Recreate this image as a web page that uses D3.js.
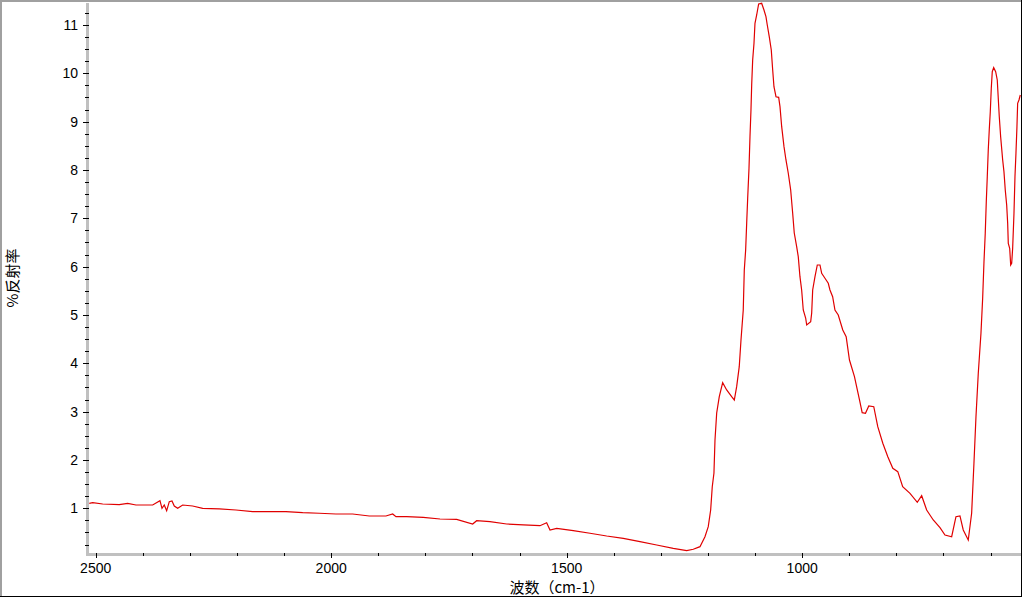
<!DOCTYPE html>
<html>
<head>
<meta charset="utf-8">
<script src="https://cdn.jsdelivr.net/npm/d3@7"></script>
<style>
  html, body { margin: 0; padding: 0; background: #fff; }
  svg { display: block; }
</style>
</head>
<body>
<svg id="chart" width="1024" height="598"></svg>
<script>
// ---- data ----
const wavenumber = [
  2513.6, 2506.4, 2485.1, 2449.9, 2432.1, 2414.4, 2379.0, 2363.5, 2359.2, 2354.4,
  2349.3, 2343.7, 2338.0, 2333.1, 2325.9, 2315.3, 2294.1, 2272.8, 2237.6, 2202.1,
  2166.7, 2131.4, 2096.0, 2060.5, 2025.3, 1989.8, 1954.4, 1919.1, 1883.7, 1869.4,
  1862.4, 1839.7, 1804.5, 1769.0, 1733.6, 1699.6, 1691.1, 1662.9, 1627.4, 1592.1,
  1556.7, 1542.5, 1535.4, 1521.2, 1486.0, 1450.5, 1415.1, 1379.8, 1344.4, 1308.9,
  1273.7, 1245.2, 1231.2, 1217.0, 1206.4, 1199.4, 1194.3, 1190.9, 1187.3, 1185.1,
  1181.5, 1176.0, 1168.8, 1160.3, 1149.7, 1144.1, 1139.1, 1133.6, 1129.9, 1125.1,
  1122.9, 1120.0, 1117.8, 1115.7, 1112.9, 1110.8, 1108.7, 1107.2, 1105.1, 1102.3,
  1100.2, 1096.6, 1092.4, 1086.0, 1081.1, 1076.9, 1074.1, 1069.9, 1065.6, 1062.6,
  1059.9, 1055.6, 1049.9, 1047.1, 1043.5, 1038.6, 1034.4, 1029.5, 1024.4, 1020.2,
  1016.8, 1011.7, 1008.3, 1004.7, 1001.1, 997.7, 992.6, 990.4, 981.9, 979.8,
  977.7, 972.8, 967.9, 962.2, 958.6, 951.6, 944.6, 941.0, 935.3, 930.4,
  923.4, 913.8, 906.6, 899.6, 889.0, 878.3, 872.6, 865.6, 858.6, 848.0,
  839.5, 828.8, 818.2, 807.6, 797.0, 786.6, 771.1, 755.6, 746.3, 735.7,
  721.7, 707.4, 696.8, 682.6, 673.5, 665.0, 658.0, 647.4, 640.2, 635.3,
  631.0, 626.1, 620.4, 616.8, 614.0, 611.3, 609.1, 607.0, 604.9, 602.8,
  600.6, 598.5, 596.4, 593.4, 589.2, 585.8, 581.5, 578.6, 574.3, 571.6,
  568.8, 565.8, 563.7, 562.4, 559.4, 557.3, 555.2, 553.1, 550.3, 548.2,
  546.1, 544.0, 542.5, 539.7, 536.9
];
const reflectance = [
  1.103, 1.116, 1.089, 1.075, 1.103, 1.068, 1.068, 1.157, 1.000, 1.068,
  0.950, 1.137, 1.151, 1.048, 1.000, 1.068, 1.048, 1.000, 0.986, 0.965,
  0.930, 0.930, 0.930, 0.909, 0.897, 0.882, 0.882, 0.841, 0.841, 0.882,
  0.826, 0.826, 0.814, 0.779, 0.772, 0.675, 0.744, 0.723, 0.675, 0.655,
  0.640, 0.702, 0.551, 0.586, 0.537, 0.483, 0.427, 0.379, 0.309, 0.241,
  0.172, 0.123, 0.152, 0.206, 0.412, 0.619, 0.965, 1.447, 1.730, 2.413,
  2.972, 3.309, 3.599, 3.448, 3.309, 3.241, 3.516, 3.930, 4.482, 5.103,
  5.931, 6.344, 6.903, 7.414, 8.035, 8.689, 9.241, 9.759, 10.276, 10.621,
  11.035, 11.207, 11.435, 11.449, 11.310, 11.172, 11.000, 10.758, 10.483, 10.069,
  9.723, 9.516, 9.504, 9.310, 8.896, 8.482, 8.207, 7.932, 7.586, 7.110,
  6.696, 6.413, 6.206, 5.792, 5.517, 5.103, 4.937, 4.793, 4.861, 5.041,
  5.517, 5.792, 6.034, 6.034, 5.862, 5.759, 5.656, 5.517, 5.378, 5.103,
  5.000, 4.689, 4.551, 4.068, 3.723, 3.241, 2.978, 2.966, 3.117, 3.102,
  2.688, 2.345, 2.068, 1.828, 1.758, 1.447, 1.310, 1.124, 1.261, 0.965,
  0.758, 0.599, 0.447, 0.412, 0.826, 0.841, 0.551, 0.344, 0.897, 1.931,
  2.896, 3.793, 4.621, 5.345, 6.102, 6.690, 7.344, 7.861, 8.414, 8.827,
  9.206, 9.690, 10.034, 10.117, 10.034, 9.862, 9.103, 8.689, 8.207, 7.965,
  7.586, 7.276, 6.897, 6.483, 6.380, 6.034, 6.069, 6.380, 7.104, 7.861,
  8.345, 8.896, 9.380, 9.448, 9.552
];
const xMajorTicks = [2500, 2000, 1500, 1000];
const xMinorTicks = d3.range(2500, 500, -100);
const yMajorTicks = [1, 2, 3, 4, 5, 6, 7, 8, 9, 10, 11];
const yMinorTicks = d3.range(0.25, 11.5, 0.25);
const xTitle = "波数（cm-1）";
const yTitle = "%反射率";

// ---- layout ----
(function () {
const svg = d3.select("#chart");
const W = 1024, H = 598;
const pLeft = 88, pRight = 1021, pTop = 3, pBottom = 553;

const x = d3.scaleLinear().domain([2516.3, 535.4]).range([pLeft, pRight]);
const y = d3.scaleLinear().domain([0.075, 11.455]).range([pBottom, pTop]);

svg.append("rect").attr("x", 0).attr("y", 0).attr("width", W).attr("height", H).attr("fill", "#fff");

// frame
svg.append("rect").attr("x", 0).attr("y", 0).attr("width", 1022).attr("height", 2).attr("fill", "#a0a0a0");
svg.append("rect").attr("x", 0).attr("y", 0).attr("width", 2).attr("height", 597).attr("fill", "#a0a0a0");
svg.append("rect").attr("x", 1021).attr("y", 0).attr("width", 1).attr("height", 597).attr("fill", "#000");
svg.append("rect").attr("x", 0).attr("y", 596).attr("width", 1022).attr("height", 1).attr("fill", "#000");

// axis bands
svg.append("rect").attr("x", 86).attr("y", pTop).attr("width", 3).attr("height", 556 - pTop).attr("fill", "#c0c0c0");
svg.append("rect").attr("x", 86).attr("y", 553).attr("width", pRight - 86).attr("height", 3).attr("fill", "#c0c0c0");

// curve
const pts = wavenumber.map((w, i) => [w, reflectance[i]]);
const line = d3.line().x(d => x(d[0])).y(d => y(d[1]));
svg.append("path").datum(pts)
  .attr("d", line)
  .attr("fill", "none")
  .attr("stroke", "#e00000")
  .attr("stroke-width", 1.2)
  .attr("stroke-linejoin", "miter");

// y ticks
const yMinorSel = yMinorTicks.filter(v => !yMajorTicks.includes(v) && y(v) >= pTop);
svg.selectAll(".ymin").data(yMinorSel).enter().append("line")
  .attr("x1", 85).attr("x2", 89)
  .attr("y1", d => Math.round(y(d)) + 0.5).attr("y2", d => Math.round(y(d)) + 0.5)
  .attr("stroke", "#000").attr("stroke-width", 1);
svg.selectAll(".ymaj").data(yMajorTicks).enter().append("line")
  .attr("x1", 83).attr("x2", 89)
  .attr("y1", d => Math.round(y(d)) + 0.5).attr("y2", d => Math.round(y(d)) + 0.5)
  .attr("stroke", "#000").attr("stroke-width", 1);
svg.selectAll(".ylab").data(yMajorTicks).enter().append("text")
  .attr("x", 78).attr("y", d => y(d))
  .attr("text-anchor", "end").attr("dominant-baseline", "central")
  .attr("font-family", "Liberation Sans, Arial, sans-serif").attr("font-size", 14)
  .attr("fill", "#000").text(d => d);

// x ticks
const xMinorSel = xMinorTicks.filter(v => !xMajorTicks.includes(v));
svg.selectAll(".xmin").data(xMinorSel).enter().append("line")
  .attr("x1", d => Math.round(x(d)) + 0.5).attr("x2", d => Math.round(x(d)) + 0.5)
  .attr("y1", 553).attr("y2", 556)
  .attr("stroke", "#000").attr("stroke-width", 1);
svg.selectAll(".xmaj").data(xMajorTicks).enter().append("line")
  .attr("x1", d => Math.round(x(d)) + 0.5).attr("x2", d => Math.round(x(d)) + 0.5)
  .attr("y1", 553).attr("y2", 558)
  .attr("stroke", "#000").attr("stroke-width", 1);
svg.selectAll(".xlab").data(xMajorTicks).enter().append("text")
  .attr("x", d => x(d)).attr("y", 568)
  .attr("text-anchor", "middle").attr("dominant-baseline", "central")
  .attr("font-family", "Liberation Sans, Arial, sans-serif").attr("font-size", 14)
  .attr("fill", "#000").text(d => d);

// titles
svg.append("text")
  .attr("x", 557).attr("y", 586)
  .attr("text-anchor", "middle").attr("dominant-baseline", "central")
  .attr("font-family", "Noto Sans CJK SC, sans-serif").attr("font-size", 15)
  .attr("fill", "#000").text(xTitle);
svg.append("text")
  .attr("transform", "translate(11,278) rotate(-90)")
  .attr("text-anchor", "middle").attr("dominant-baseline", "central")
  .attr("font-family", "Noto Sans CJK SC, sans-serif").attr("font-size", 15)
  .attr("fill", "#000").text(yTitle);
})();
</script>
</body>
</html>
